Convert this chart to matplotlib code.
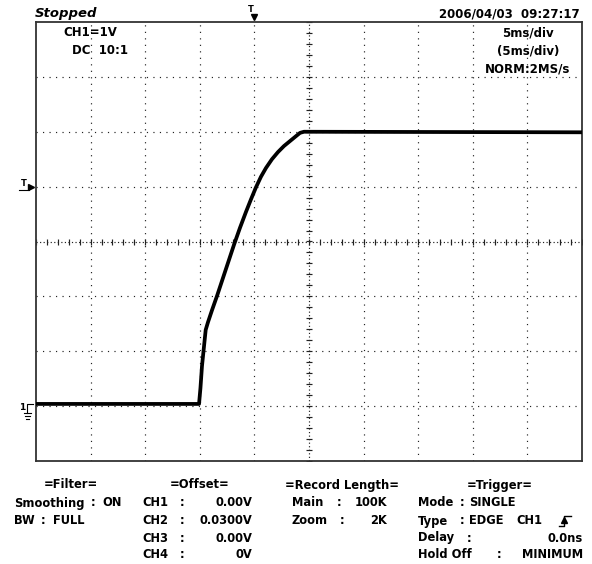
import numpy as np
import matplotlib
matplotlib.use("Agg")
import matplotlib.pyplot as plt
from matplotlib.transforms import blended_transform_factory

# ---- data (time in ms, voltage in V) ----
t_ms = [-25.0, -10.07, -9.94, -9.80, -9.62, -9.46, -9.25, -8.88, -8.42, -7.97,
        -7.42, -6.87, -6.32, -5.77, -5.31, -4.85, -4.40, -3.94, -3.39, -2.84,
        -2.29, -1.74, -1.19, -0.82, -0.46, 25.0]
volts = [-2.96, -2.96, -2.67, -2.27, -1.92, -1.61, -1.47, -1.25, -0.99, -0.72,
         -0.39, -0.06, 0.25, 0.54, 0.77, 0.99, 1.18, 1.34, 1.50, 1.63,
         1.74, 1.83, 1.92, 1.98, 2.00, 1.99]

trigger_time = -5.0      # ms
trigger_level = 1.0      # V
ground_level = -3.0      # V (CH1 marker)

header_left = "Stopped"
header_right = "2006/04/03  09:27:17"
ch_lines = ["CH1=1V", "DC  10:1"]
tb_lines = ["5ms/div", "(5ms/div)", "NORM:2MS/s"]

filter_title = "=Filter="
filter_labels = ["Smoothing", "BW"]
filter_values = ["ON", "FULL"]
offset_title = "=Offset="
offset_labels = ["CH1", "CH2", "CH3", "CH4"]
offset_values = ["0.00V", "0.0300V", "0.00V", "0V"]
record_title = "=Record Length="
record_labels = ["Main", "Zoom"]
record_values = ["100K", "2K"]
trigger_title = "=Trigger="
trigger_labels = ["Mode", "Type", "Delay", "Hold Off"]
trigger_values = ["SINGLE", "EDGE", "0.0ns", "MINIMUM"]
trigger_source = "CH1"

W, H = 592, 564
fig = plt.figure(figsize=(W / 100, H / 100), dpi=100)
fig.patch.set_facecolor("white")

L, R, T, B = 36, 582, 22, 461
ax = fig.add_axes([L / W, 1 - B / H, (R - L) / W, (B - T) / H])
ax.set_xlim(-25, 25)
ax.set_ylim(-4, 4)
ax.set_xticks([])
ax.set_yticks([])
for s in ax.spines.values():
    s.set_color("#333333")
    s.set_linewidth(1.3)

# dotted grid
for x in np.arange(-20, 25, 5):
    if x != 0:
        ax.axvline(x, color="#222222", lw=0.85, dashes=(1, 4.5), zorder=1)
for y in np.arange(-3, 4, 1):
    if y != 0:
        ax.axhline(y, color="#222222", lw=0.85, dashes=(1, 4.5), zorder=1)

# centre axes with minor ticks
ax.axvline(0, color="#222222", lw=0.85, dashes=(1, 2), zorder=1)
ax.axhline(0, color="#222222", lw=0.85, dashes=(1, 2), zorder=1)
mx = np.arange(-25, 25.01, 1.0)
my = np.arange(-4, 4.01, 0.2)
ax.plot(mx, np.zeros_like(mx), ls="none", marker="|", ms=4, mew=0.85, color="#222222", zorder=1)
ax.plot(np.zeros_like(my), my, ls="none", marker="_", ms=4, mew=0.85, color="#222222", zorder=1)

# waveform
ax.plot(t_ms, volts, color="black", lw=2.7, solid_joinstyle="round",
        solid_capstyle="butt", zorder=3)

FONT = "DejaVu Sans"
FS = 8.3

def ftxt(x, y, s, ha="left", size=FS, weight="bold", style="normal"):
    fig.text(x / W, 1 - y / H, s, ha=ha, va="center", fontsize=size,
             fontweight=weight, fontstyle=style, family=FONT, color="black")

# header
ftxt(35, 13, header_left, size=9.5, style="italic")
ftxt(580, 14, header_right, ha="right", size=8.5)

# inside texts
ftxt(63, 32, ch_lines[0], size=8.5)
ftxt(72, 51, ch_lines[1], size=8.5)
for i, s in enumerate(tb_lines):
    ftxt(528, 33 + i * 18, s, ha="center", size=8.5)

# trigger position marker (top)
tr_top = blended_transform_factory(ax.transData, fig.transFigure)
fig.text(trigger_time - 0.35, 1 - 9 / H, "T", transform=tr_top, ha="center", va="center",
         fontsize=6, fontweight="bold", family=FONT)
ax.plot([trigger_time], [1 - 17 / H], marker="v", ms=5, color="black",
        transform=tr_top, clip_on=False)

# trigger level marker (left)
tr_left = blended_transform_factory(fig.transFigure, ax.transData)
fig.text(24 / W, trigger_level + 0.05, "T", transform=tr_left, ha="center", va="center",
         fontsize=6, fontweight="bold", family=FONT)
ax.plot([19 / W, 29 / W], [trigger_level - 0.06, trigger_level - 0.06], color="black",
        lw=0.8, transform=tr_left, clip_on=False)
ax.plot([31 / W], [trigger_level], marker=">", ms=5, color="black",
        transform=tr_left, clip_on=False)

# ground marker (left)
fig.text(22 / W, ground_level - 0.03, "1", transform=tr_left, ha="center", va="center",
         fontsize=6.5, fontweight="bold", family=FONT)
gx0, gx1 = 27 / W, 33 / W
ax.plot([gx1, gx0, gx0], [ground_level + 0.04, ground_level + 0.04, ground_level - 0.12],
        color="black", lw=0.8, transform=tr_left, clip_on=False)
for k, (a, b) in enumerate([(24, 31), (25, 30), (26, 29)]):
    yy = ground_level - 0.12 - k * 0.055
    ax.plot([a / W, b / W], [yy, yy], color="black", lw=0.8, transform=tr_left, clip_on=False)

# bottom panel
rows = [485, 503, 521, 538, 555]

ftxt(71, rows[0], filter_title, ha="center")
for i, (lab, val, cx, vx) in enumerate(zip(filter_labels, filter_values, [91, 41], [102, 53])):
    ftxt(14, rows[i + 1], lab)
    ftxt(cx, rows[i + 1], ":")
    ftxt(vx, rows[i + 1], val)

ftxt(200, rows[0], offset_title, ha="center")
for i, (lab, val) in enumerate(zip(offset_labels, offset_values)):
    ftxt(142, rows[i + 1], lab)
    ftxt(180, rows[i + 1], ":")
    ftxt(252, rows[i + 1], val, ha="right")

ftxt(342, rows[0], record_title, ha="center")
for i, (lab, val, cx) in enumerate(zip(record_labels, record_values, [337, 340])):
    ftxt(292, rows[i + 1], lab)
    ftxt(cx, rows[i + 1], ":")
    ftxt(387, rows[i + 1], val, ha="right")

ftxt(500, rows[0], trigger_title, ha="center")
tcol = [460, 460, 467, 497]
tval = [(469, "left"), (469, "left"), (583, "right"), (583, "right")]
for i, (lab, val) in enumerate(zip(trigger_labels, trigger_values)):
    ftxt(418, rows[i + 1], lab)
    ftxt(tcol[i], rows[i + 1], ":")
    ftxt(tval[i][0], rows[i + 1], val, ha=tval[i][1])
ftxt(516, rows[2], trigger_source)

# rising-edge symbol after source
ey = rows[2]
def fl(xs, ys):
    fig.add_artist(plt.Line2D([x / W for x in xs], [1 - y / H for y in ys],
                              color="black", lw=1.0, transform=fig.transFigure))
fl([559, 564, 564, 571], [ey + 5, ey + 5, ey - 5, ey - 5])
fig.add_artist(plt.Line2D([564 / W], [1 - (ey - 1) / H], marker="^", ms=4.5,
                          color="black", transform=fig.transFigure))

fig.savefig("out.png", dpi=100, facecolor="white")
